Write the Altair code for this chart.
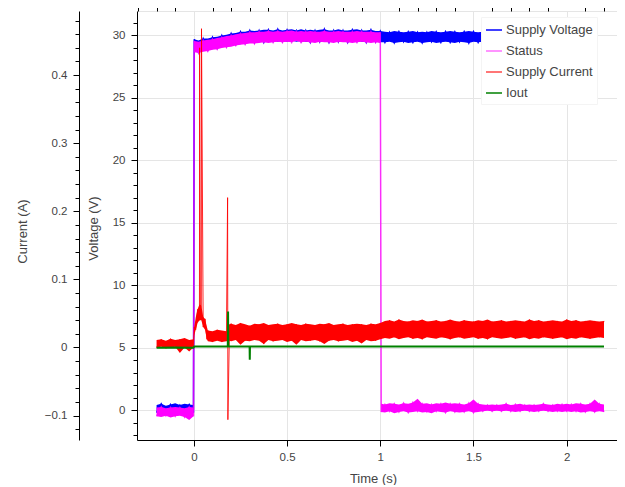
import altair as alt
import pandas as pd

SERIES = ["Supply Voltage", "Status", "Supply Current", "Iout"]
COLORS = ["#0000ff", "#ff00ff", "#ff0000", "#008000"]
LEGEND_COLORS = ["#0000ff", "#ff70ff", "#ff4848", "#008000"]

# ---------------- Supply Voltage (V): noise envelope ----------------
VOLT_T = [-0.2, -0.175, -0.15, -0.125, -0.1, -0.075, -0.05, -0.025, -0.002,
          0.002, 0.025, 0.05, 0.075, 0.1, 0.125, 0.15, 0.175, 0.2, 0.225,
          0.25, 0.275, 0.3, 0.325, 0.35, 0.375, 0.4, 0.425, 0.45, 0.475,
          0.5, 0.525, 0.55, 0.575, 0.6, 0.625, 0.65, 0.675, 0.7, 0.725,
          0.75, 0.775, 0.8, 0.825, 0.85, 0.875, 0.9, 0.925, 0.95, 0.975,
          1.0, 1.025, 1.05, 1.075, 1.1, 1.125, 1.15, 1.175, 1.2, 1.225,
          1.25, 1.275, 1.3, 1.325, 1.35, 1.375, 1.4, 1.425, 1.45, 1.475,
          1.5, 1.525, 1.55]
VOLT_LO = [-0.2, -0.25, -0.15, -0.3, -0.2, -0.25, -0.15, -0.35, -0.2,
           28.75, 28.7, 28.8, 28.85, 28.9, 29.0, 29.05, 29.15, 29.2, 29.3,
           29.3, 29.4, 29.4, 29.45, 29.5, 29.45, 29.5, 29.55, 29.5, 29.55,
           29.5, 29.6, 29.5, 29.55, 29.5, 29.45, 29.55, 29.5, 29.5, 29.45,
           29.55, 29.5, 29.5, 29.45, 29.5, 29.55, 29.5, 29.45, 29.5, 29.5,
           29.45, 29.45, 29.5, 29.4, 29.45, 29.5, 29.4, 29.45, 29.5, 29.4,
           29.45, 29.5, 29.4, 29.45, 29.5, 29.45, 29.4, 29.5, 29.45, 29.4,
           29.5, 29.45, 29.5]
VOLT_HI = [0.4, 0.5, 0.35, 0.45, 0.55, 0.4, 0.5, 0.45, 0.4,
           29.7, 29.6, 29.75, 29.75, 29.85, 29.9, 30.0, 30.05, 30.15, 30.2,
           30.3, 30.3, 30.4, 30.35, 30.4, 30.45, 30.45, 30.4, 30.5, 30.4,
           30.45, 30.5, 30.4, 30.5, 30.4, 30.45, 30.4, 30.45, 30.5, 30.4,
           30.4, 30.5, 30.4, 30.4, 30.45, 30.5, 30.4, 30.4, 30.45, 30.35,
           30.35, 30.3, 30.25, 30.35, 30.3, 30.25, 30.3, 30.35, 30.25, 30.3,
           30.25, 30.35, 30.3, 30.25, 30.3, 30.35, 30.3, 30.25, 30.3, 30.35,
           30.3, 30.25, 30.3]

# ---------------- Status (V): noise envelope ----------------
STATUS_T = [-0.2, -0.175, -0.15, -0.125, -0.1, -0.075, -0.05, -0.025, -0.002,
            0.002, 0.025, 0.05, 0.075, 0.1, 0.125, 0.15, 0.175, 0.2, 0.225,
            0.25, 0.275, 0.3, 0.325, 0.35, 0.375, 0.4, 0.425, 0.45, 0.475,
            0.5, 0.525, 0.55, 0.575, 0.6, 0.625, 0.65, 0.675, 0.7, 0.725,
            0.75, 0.775, 0.8, 0.825, 0.85, 0.875, 0.9, 0.925, 0.95, 0.975,
            1.0,
            1.005, 1.025, 1.05, 1.075, 1.1, 1.125, 1.15, 1.175, 1.2, 1.225,
            1.25, 1.275, 1.3, 1.325, 1.35, 1.375, 1.4, 1.425, 1.45, 1.475,
            1.5, 1.525, 1.55, 1.575, 1.6, 1.625, 1.65, 1.675, 1.7, 1.725,
            1.75, 1.775, 1.8, 1.825, 1.85, 1.875, 1.9, 1.925, 1.95, 1.975,
            2.0, 2.025, 2.05, 2.075, 2.1, 2.125, 2.15, 2.175, 2.2]
STATUS_LO = [-0.5, -0.55, -0.45, -0.6, -0.5, -0.45, -0.55, -0.8, -0.5,
             28.65, 28.6, 28.7, 28.75, 28.85, 28.9, 29.0, 29.05, 29.1, 29.2,
             29.25, 29.3, 29.35, 29.35, 29.4, 29.45, 29.4, 29.45, 29.5, 29.45,
             29.5, 29.45, 29.55, 29.45, 29.5, 29.45, 29.4, 29.5, 29.45, 29.45,
             29.4, 29.5, 29.45, 29.45, 29.4, 29.45, 29.5, 29.45, 29.4, 29.45,
             29.4,
             -0.15, -0.2, -0.1, -0.25, -0.15, -0.1, -0.2, -0.15, -0.1, -0.2,
             -0.15, -0.25, -0.1, -0.15, -0.2, -0.1, -0.15, -0.2, -0.15, -0.1,
             -0.2, -0.15, -0.1, -0.05, -0.1, -0.05, -0.1, -0.05, -0.1, -0.15,
             -0.1, -0.05, -0.1, -0.15, -0.1, -0.05, -0.1, -0.15, -0.1, -0.15,
             -0.1, -0.15, -0.1, -0.2, -0.15, -0.1, -0.15, -0.1, -0.15]
STATUS_HI = [0.2, 0.25, 0.15, 0.2, 0.25, 0.2, 0.15, 0.25, 0.2,
             29.55, 29.5, 29.6, 29.65, 29.7, 29.8, 29.85, 29.95, 30.0, 30.1,
             30.15, 30.2, 30.25, 30.25, 30.3, 30.3, 30.35, 30.3, 30.35, 30.3,
             30.35, 30.4, 30.3, 30.35, 30.3, 30.35, 30.3, 30.3, 30.35, 30.3,
             30.3, 30.35, 30.3, 30.3, 30.3, 30.35, 30.3, 30.3, 30.3, 30.25,
             30.25,
             0.5, 0.45, 0.55, 0.5, 0.45, 0.55, 0.5, 0.6, 0.9, 0.5,
             0.55, 0.45, 0.55, 0.5, 0.6, 0.5, 0.55, 0.5, 0.45, 0.55,
             0.85, 0.5, 0.45, 0.4, 0.45, 0.4, 0.45, 0.5, 0.4, 0.45,
             0.5, 0.4, 0.45, 0.4, 0.45, 0.5, 0.45, 0.4, 0.5, 0.45,
             0.5, 0.45, 0.55, 0.5, 0.45, 0.5, 0.85, 0.5, 0.45]

# ---------------- Supply Current (A): noise envelope + spikes ----------------
CUR_T = [-0.2, -0.175, -0.15, -0.125, -0.1, -0.075, -0.05, -0.025, -0.002,
         0.002, 0.01, 0.02, 0.03, 0.04, 0.05, 0.06, 0.07, 0.075, 0.1,
         0.125, 0.15, 0.175,
         0.19, 0.2, 0.225, 0.25, 0.275, 0.3, 0.325, 0.35, 0.375, 0.4,
         0.425, 0.45, 0.475, 0.5, 0.525, 0.55, 0.575, 0.6, 0.625, 0.65,
         0.675, 0.7, 0.725, 0.75, 0.775, 0.8, 0.825, 0.85, 0.875, 0.9,
         0.925, 0.95, 0.975, 1.0,
         1.025, 1.05, 1.075, 1.1, 1.125, 1.15, 1.175, 1.2, 1.225, 1.25,
         1.275, 1.3, 1.325, 1.35, 1.375, 1.4, 1.425, 1.45, 1.475, 1.5,
         1.525, 1.55, 1.575, 1.6, 1.625, 1.65, 1.675, 1.7, 1.725, 1.75,
         1.775, 1.8, 1.825, 1.85, 1.875, 1.9, 1.925, 1.95, 1.975, 2.0,
         2.025, 2.05, 2.075, 2.1, 2.125, 2.15, 2.175, 2.2]
CUR_LO = [0.0, 0.001, -0.001, 0.0, 0.001, -0.008, 0.0, -0.006, 0.0,
          0.018, 0.026, 0.036, 0.04, 0.04, 0.03, 0.026, 0.012, 0.009, 0.008,
          0.01, 0.008, 0.009,
          0.01, 0.009, 0.011, 0.004, 0.01, 0.009, 0.011, 0.01, 0.005, 0.011,
          0.009, 0.01, 0.011, 0.008, 0.01, 0.004, 0.011, 0.009, 0.01, 0.011,
          0.009, 0.005, 0.01, 0.011, 0.009, 0.01, 0.011, 0.008, 0.01, 0.006,
          0.011, 0.009, 0.01, 0.012,
          0.014, 0.013, 0.015, 0.012, 0.014, 0.015, 0.013, 0.014, 0.012, 0.015,
          0.014, 0.013, 0.015, 0.014, 0.012, 0.014, 0.015, 0.013, 0.014, 0.015,
          0.013, 0.014, 0.012, 0.015, 0.014, 0.013, 0.014, 0.015, 0.013, 0.014,
          0.015, 0.012, 0.014, 0.013, 0.015, 0.014, 0.013, 0.014, 0.015, 0.012,
          0.014, 0.013, 0.015, 0.014, 0.013, 0.014, 0.015, 0.014]
CUR_HI = [0.011, 0.012, 0.01, 0.013, 0.011, 0.012, 0.014, 0.011, 0.012,
          0.03, 0.044, 0.056, 0.063, 0.062, 0.045, 0.042, 0.03, 0.025, 0.024,
          0.026, 0.025, 0.024,
          0.034, 0.035, 0.033, 0.036, 0.034, 0.032, 0.035, 0.034, 0.036, 0.033,
          0.034, 0.035, 0.033, 0.034, 0.036, 0.034, 0.033, 0.035, 0.034, 0.033,
          0.035, 0.034, 0.036, 0.033, 0.034, 0.035, 0.033, 0.034, 0.035, 0.034,
          0.033, 0.035, 0.034, 0.036,
          0.039, 0.04, 0.038, 0.041, 0.039, 0.038, 0.04, 0.039, 0.041, 0.038,
          0.039, 0.04, 0.038, 0.039, 0.041, 0.039, 0.038, 0.04, 0.039, 0.038,
          0.04, 0.039, 0.041, 0.038, 0.039, 0.04, 0.038, 0.039, 0.04, 0.039,
          0.038, 0.041, 0.039, 0.04, 0.038, 0.039, 0.04, 0.039, 0.038, 0.041,
          0.039, 0.04, 0.038, 0.039, 0.04, 0.039, 0.038, 0.039]
CUR_SPIKE_T = [0.031, 0.035, 0.041, 0.181, 0.1825]
CUR_SPIKE_V = [0.44, 0.05, 0.468, 0.22, -0.106]

# ---------------- Iout (A) ----------------
IOUT_T = [-0.2, -0.1, -0.002, 0.002, 0.1, 0.182, 0.1835, 0.185, 0.299, 0.3,
          0.301, 0.6, 1.0, 1.5, 2.2]
IOUT_V = [-0.0005, 0.0, -0.0005, 0.0015, 0.0015, 0.0015, 0.053, 0.0015, 0.0015,
          -0.018, 0.0015, 0.0015, 0.0015, 0.0015, 0.0015]

# ---------------- axis ticks ----------------
X_MAJOR = [0, 0.5, 1, 1.5, 2]
X_MINOR = [-0.3, -0.2, -0.1, 0.1, 0.2, 0.3, 0.4, 0.6, 0.7, 0.8, 0.9, 1.1, 1.2,
           1.3, 1.4, 1.6, 1.7, 1.8, 1.9, 2.1, 2.2, 2.3]
V_MAJOR = [0, 5, 10, 15, 20, 25, 30]
V_MINOR = [-2, -1, 1, 2, 3, 4, 6, 7, 8, 9, 11, 12, 13, 14, 16, 17, 18, 19,
           21, 22, 23, 24, 26, 27, 28, 29, 31]
A_MAJOR = [-0.1, 0, 0.1, 0.2, 0.3, 0.4]
A_MINOR = [-0.12, -0.08, -0.06, -0.04, -0.02, 0.02, 0.04, 0.06, 0.08, 0.12,
           0.14, 0.16, 0.18, 0.22, 0.24, 0.26, 0.28, 0.32, 0.34, 0.36, 0.38,
           0.42, 0.44, 0.46, 0.48]

for a, b in [(VOLT_T, VOLT_LO), (VOLT_T, VOLT_HI), (STATUS_T, STATUS_LO),
             (STATUS_T, STATUS_HI), (CUR_T, CUR_LO), (CUR_T, CUR_HI),
             (IOUT_T, IOUT_V), (CUR_SPIKE_T, CUR_SPIKE_V)]:
    assert len(a) == len(b), (len(a), len(b))


def band_frame(name, ts, lo, hi):
    return pd.DataFrame({"t": ts, "lo": lo, "hi": hi, "s": name})


def trace_frame(name, ts, lo, hi, extra_t=(), extra_v=()):
    vals = [lo[i] if i % 2 == 0 else hi[i] for i in range(len(ts))]
    return pd.DataFrame({"t": list(ts) + list(extra_t),
                         "v": vals + list(extra_v), "s": name})


x_scale = alt.Scale(domain=[-0.305, 2.302], nice=False, zero=False)
yv_scale = alt.Scale(domain=[-2.40, 31.96], nice=False, zero=False)
ya_scale = alt.Scale(domain=[-0.1358, 0.494], nice=False, zero=False)
color_scale = alt.Scale(domain=SERIES, range=LEGEND_COLORS)

legend = alt.Legend(orient="none", legendX=344, legendY=6, direction="vertical",
                    title=None, symbolType="stroke", symbolSize=256,
                    symbolStrokeWidth=1.5, symbolOpacity=1, labelFontSize=13,
                    labelFont="Liberation Sans", labelColor="#444444",
                    labelOffset=3, fillColor="#ffffff", strokeColor="#f4f4f4",
                    padding=4, rowPadding=5)

x_major_axis = alt.Axis(values=X_MAJOR, format="~g", grid=True, tickSize=6,
                        labelPadding=5, title="Time (s)", titleX=236, titleY=38,
                        titleAlign="center", titleBaseline="middle")
x_minor_axis = alt.Axis(values=X_MINOR, grid=False, tickSize=4, labels=False,
                        domain=False, title=None)
v_major_axis = alt.Axis(values=V_MAJOR, format="~g", orient="left", grid=True,
                        tickSize=6, labelPadding=6, title="Voltage (V)",
                        titleAngle=270, titleX=-44, titleY=217,
                        titleAlign="center", titleBaseline="middle")
v_minor_axis = alt.Axis(values=V_MINOR, orient="left", grid=False, tickSize=4,
                        labels=False, domain=False, title=None)
a_major_axis = alt.Axis(values=A_MAJOR, format="~g", orient="left", offset=58,
                        grid=False, tickSize=6, labelPadding=6,
                        title="Current (A)", titleAngle=270, titleX=-57,
                        titleY=220, titleAlign="center", titleBaseline="middle")
a_minor_axis = alt.Axis(values=A_MINOR, orient="left", offset=58, grid=False,
                        tickSize=4, labels=False, domain=False, title=None)


def area_layer(df, yscale, color):
    return alt.Chart(df).mark_area(color=color).encode(
        x=alt.X("t:Q", scale=x_scale, axis=None),
        y=alt.Y("lo:Q", scale=yscale, axis=None),
        y2=alt.Y2("hi:Q"),
    )


def line_layer(df, yscale, color, xaxis=None, yaxis=None, opacity=1.0,
               width=1.0):
    return alt.Chart(df).mark_line(strokeWidth=width, opacity=opacity,
                                   color=color).encode(
        x=alt.X("t:Q", scale=x_scale, axis=xaxis),
        y=alt.Y("v:Q", scale=yscale, axis=yaxis),
    )


def minor_layer(yscale, xaxis, yaxis):
    return alt.Chart(pd.DataFrame({"t": [0.0], "v": [0.0]})).mark_point(
        opacity=0).encode(
        x=alt.X("t:Q", scale=x_scale, axis=xaxis),
        y=alt.Y("v:Q", scale=yscale, axis=yaxis),
    )


volt = alt.layer(
    area_layer(band_frame("Supply Voltage", VOLT_T, VOLT_LO, VOLT_HI),
               yv_scale, COLORS[0]),
    line_layer(trace_frame("Supply Voltage", VOLT_T, VOLT_LO, VOLT_HI),
               yv_scale, COLORS[0], xaxis=x_major_axis, yaxis=v_major_axis,
               width=1.5),
    area_layer(band_frame("Status", STATUS_T, STATUS_LO, STATUS_HI),
               yv_scale, COLORS[1]),
    line_layer(trace_frame("Status", STATUS_T, STATUS_LO, STATUS_HI),
               yv_scale, COLORS[1], opacity=0.8, width=1.5),
    minor_layer(yv_scale, x_minor_axis, v_minor_axis),
).resolve_axis(x="independent", y="independent")

amp = alt.layer(
    area_layer(band_frame("Supply Current", CUR_T, CUR_LO, CUR_HI),
               ya_scale, COLORS[2]),
    line_layer(trace_frame("Supply Current", CUR_T, CUR_LO, CUR_HI,
                           CUR_SPIKE_T, CUR_SPIKE_V), ya_scale, COLORS[2],
               yaxis=a_major_axis, opacity=0.85),
    line_layer(pd.DataFrame({"t": IOUT_T, "v": IOUT_V, "s": "Iout"}),
               ya_scale, COLORS[3], width=2.0),
    minor_layer(ya_scale, None, a_minor_axis),
).resolve_axis(x="independent", y="independent")

# legend-only layer (invisible points carrying the colour legend)
key = alt.Chart(pd.DataFrame({"s": SERIES, "t": [0.0] * 4})).mark_point(
    opacity=0).encode(
    x=alt.X("t:Q", scale=x_scale, axis=None),
    color=alt.Color("s:N", scale=color_scale, legend=legend, sort=SERIES),
)

chart = alt.layer(volt, amp, key).resolve_scale(y="independent").resolve_axis(
    x="independent", y="independent"
).properties(
    width=486, height=429,
    padding={"left": 129, "top": 3, "right": -6, "bottom": 45},
    autosize=alt.AutoSizeParams(type="none"),
    background="#ffffff",
).configure_view(stroke="#e5e5e5").configure_axis(
    domainColor="#000000", tickColor="#000000", labelColor="#444444",
    titleColor="#444444", labelFont="Liberation Sans",
    titleFont="Liberation Sans", labelFontSize=11.5, titleFontSize=13,
    titleFontWeight="normal", gridColor="#e5e5e5", domainWidth=1, tickWidth=1,
)

chart.save("out.html", embed_options={"renderer": "svg", "actions": False})
